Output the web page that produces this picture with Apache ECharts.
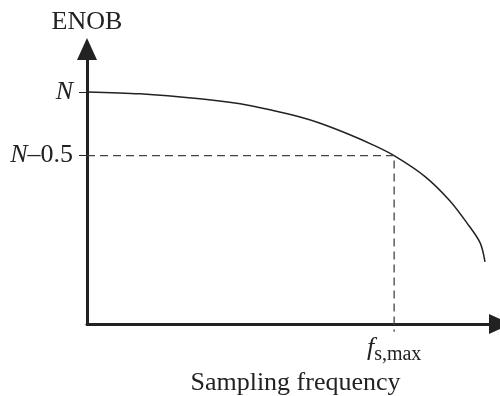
<!DOCTYPE html>
<html>
<head>
<meta charset="utf-8">
<script src="https://cdn.jsdelivr.net/npm/echarts@6/dist/echarts.min.js"></script>
<style>
  html, body { margin: 0; padding: 0; background: #fff; }
  #chart { width: 500px; height: 396px; }
</style>
</head>
<body>
<div id="chart"></div>
<script>
// ENOB vs sampling frequency (normalised units)
var N = 1.82;
var halfBitLevel = N - 0.5;
var fsMax = 0.764;
var yMax = 2.07;

var freq = [0, 0.132, 0.281, 0.381, 0.455, 0.530, 0.580, 0.654, 0.711, 0.764, 0.841, 0.903, 0.945, 0.978, 0.990];
var enob = [1.82, 1.805, 1.766, 1.727, 1.680, 1.623, 1.574, 1.484, 1.405, 1.32, 1.156, 0.965, 0.793, 0.636, 0.487];

var guideX = [0, fsMax, fsMax];
var guideY = [halfBitLevel, halfBitLevel, -0.06];

var font = "'Liberation Serif', 'Times New Roman', serif";
var ink = '#222';

var curve = freq.map(function (f, i) { return [f, enob[i]]; });
var guide = guideX.map(function (x, i) { return [x, guideY[i]]; });

var chart = echarts.init(document.getElementById('chart'));

chart.setOption({
  animation: false,
  grid: { left: 87, right: 11, top: 60, bottom: 72, outerBoundsMode: 'none', containLabel: false },
  xAxis: {
    type: 'value',
    min: 0,
    max: 1,
    name: 'Sampling frequency',
    nameLocation: 'middle',
    nameGap: 39,
    nameTextStyle: { fontFamily: font, fontSize: 26, color: ink, padding: [0, 0, 0, 15] },
    splitLine: { show: false },
    axisTick: { show: false },
    axisLine: {
      onZero: false,
      symbol: ['none', 'triangle'],
      symbolSize: [20, 22],
      symbolOffset: [0, 11],
      lineStyle: { color: ink, width: 3 }
    },
    axisLabel: {
      customValues: [fsMax],
      margin: 7,
      formatter: function () { return '{f|f}{s|s,max}'; },
      rich: {
        f: { fontFamily: font, fontSize: 26, fontStyle: 'italic', color: ink, lineHeight: 30, verticalAlign: 'bottom' },
        s: { fontFamily: font, fontSize: 20, color: ink, lineHeight: 30, verticalAlign: 'bottom', padding: [0, 0, -4, 0] }
      }
    }
  },
  yAxis: {
    type: 'value',
    min: 0,
    max: yMax,
    name: 'ENOB',
    nameGap: 25,
    nameTextStyle: { fontFamily: font, fontSize: 26, color: ink },
    splitLine: { show: false },
    axisLine: {
      symbol: ['none', 'triangle'],
      symbolSize: [20, 22],
      symbolOffset: [0, 11],
      lineStyle: { color: ink, width: 3 }
    },
    axisTick: {
      customValues: [halfBitLevel, N],
      length: 8,
      lineStyle: { color: ink, width: 1 }
    },
    axisLabel: {
      customValues: [halfBitLevel, N],
      margin: 14,
      formatter: function (v) {
        return v === N ? '{i|N}' : '{i|N}{t|–0.5}';
      },
      rich: {
        i: { fontFamily: font, fontSize: 26, fontStyle: 'italic', color: ink },
        t: { fontFamily: font, fontSize: 26, color: ink }
      }
    }
  },
  series: [
    {
      type: 'line',
      data: curve,
      smooth: 0.3,
      showSymbol: false,
      lineStyle: { color: ink, width: 1.5 }
    },
    {
      type: 'line',
      data: guide,
      clip: false,
      showSymbol: false,
      lineStyle: { color: '#444', width: 1.3, type: [8, 5] }
    }
  ]
});
</script>
</body>
</html>
